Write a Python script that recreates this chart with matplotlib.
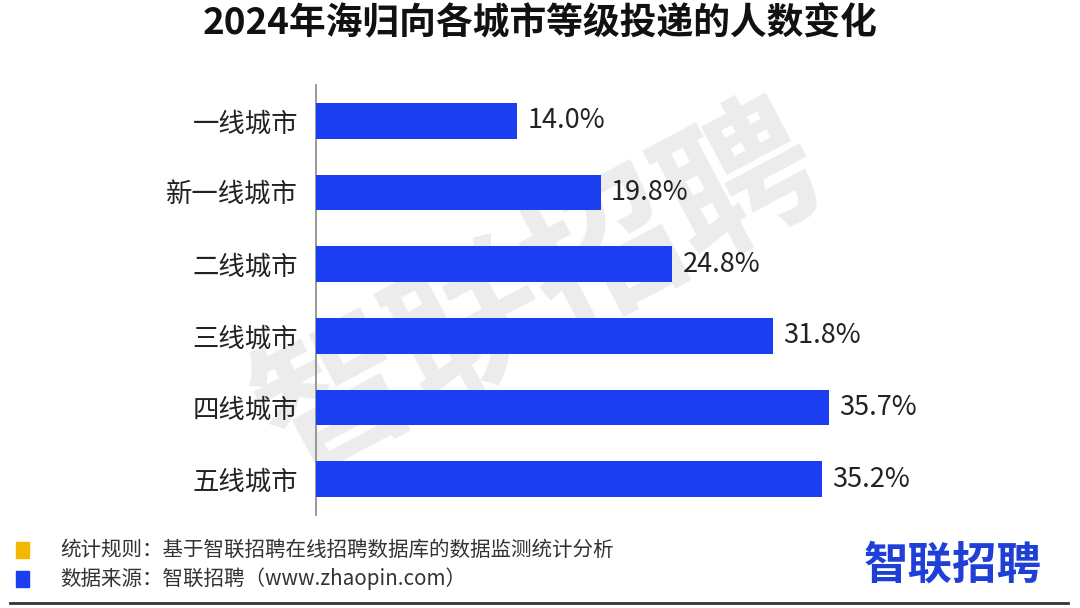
import matplotlib.pyplot as plt

plt.rcParams['font.family'] = ['Noto Sans CJK SC', 'DejaVu Sans']

# 各城市等级投递人数变化
cities = ['一线城市', '新一线城市', '二线城市', '三线城市', '四线城市', '五线城市']
shares = [14.0, 19.8, 24.8, 31.8, 35.7, 35.2]

bar_color = '#1a3ef0'

fig = plt.figure(figsize=(10.8, 6.08), dpi=100)
ax = fig.add_axes([316 / 1080, 1 - 515 / 608, 684 / 1080, 430 / 608])
ax.patch.set_alpha(0)

ypos = list(range(len(cities)))
ax.barh(ypos, shares, height=0.5, color=bar_color, zorder=3)
for y, v in zip(ypos, shares):
    ax.text(v + 0.7, y, f'{v:.1f}%', va='center', ha='left',
            fontsize=19.5, color='#222222', zorder=4)

ax.set_xlim(0, 47.6)
ax.set_ylim(5.5, -0.5)
ax.set_yticks(ypos)
ax.set_yticklabels(cities, fontsize=19, color='#222222')
ax.tick_params(axis='y', length=0, pad=13)
ax.set_xticks([])
for s in ['top', 'right', 'bottom']:
    ax.spines[s].set_visible(False)
ax.spines['left'].set_color('#888888')
ax.spines['left'].set_linewidth(1.2)

# 水印
fig.text(0.50, 0.52, '智联招聘', fontsize=110, fontweight='bold',
         color='#ececec', rotation=28, ha='center', va='center', zorder=-1)

fig.text(0.5, 1 - 24 / 608, '2024年海归向各城市等级投递的人数变化',
         ha='center', va='center', fontsize=26.5, fontweight='bold', color='#111111')

# 页脚
fig.patches.append(plt.Rectangle((16 / 1080, 1 - 558 / 608), 13 / 1080, 16 / 608,
                                 transform=fig.transFigure, color='#f5b800'))
fig.patches.append(plt.Rectangle((16 / 1080, 1 - 587 / 608), 13 / 1080, 16 / 608,
                                 transform=fig.transFigure, color=bar_color))
fig.text(60 / 1080, 1 - 550 / 608, '统计规则：基于智联招聘在线招聘数据库的数据监测统计分析',
         ha='left', va='center', fontsize=14.8, color='#333333')
fig.text(60 / 1080, 1 - 579 / 608, '数据来源：智联招聘（www.zhaopin.com）',
         ha='left', va='center', fontsize=14.8, color='#333333')
fig.text(1042 / 1080, 1 - 566 / 608, '智联招聘', ha='right', va='center',
         fontsize=32, fontweight='bold', color='#1f3fd6')
fig.add_artist(plt.Line2D([10 / 1080, 1068 / 1080], [1 - 603 / 608] * 2,
                          transform=fig.transFigure, color='#333333', linewidth=2))

fig.savefig('out.png', dpi=100)
